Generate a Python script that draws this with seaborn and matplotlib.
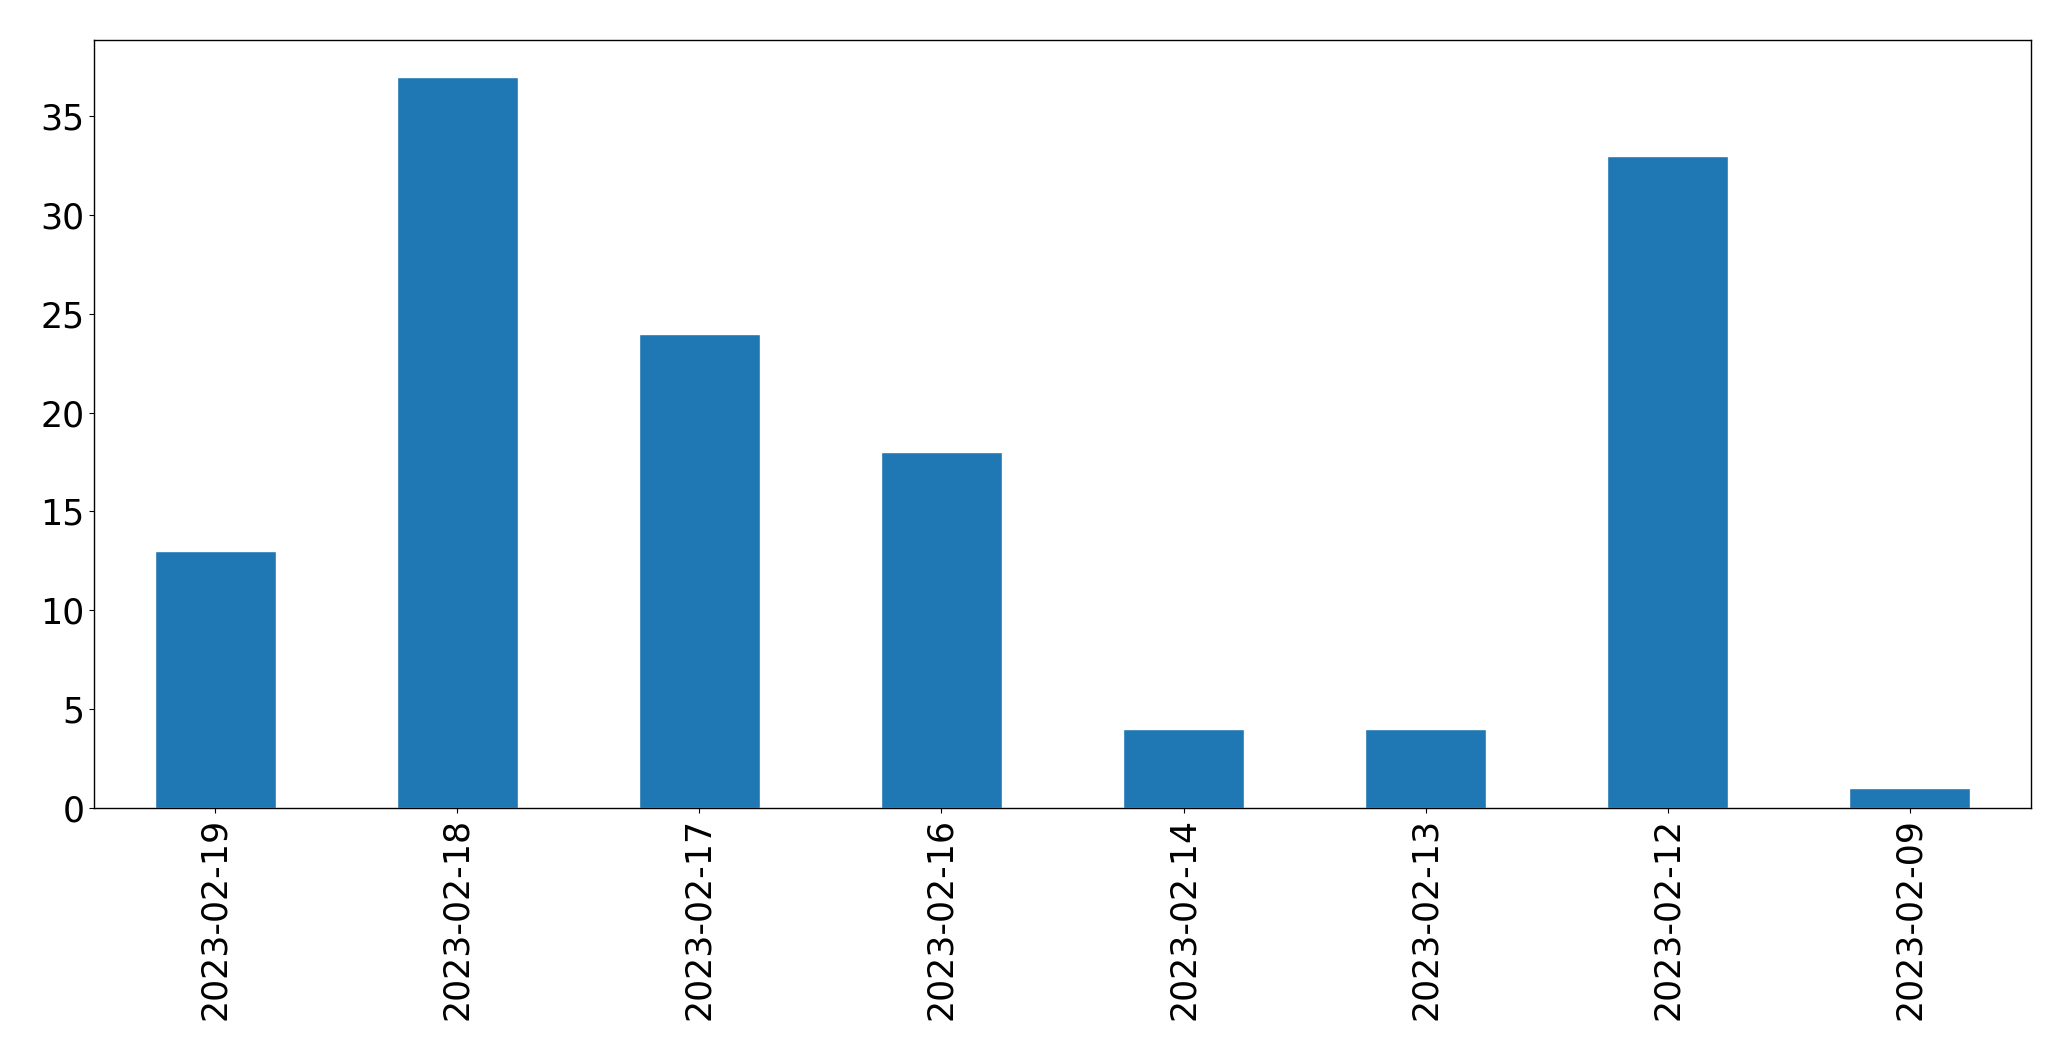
import matplotlib
matplotlib.use("Agg")
import matplotlib.pyplot as plt
import seaborn as sns
import pandas as pd

dates = ["2023-02-19", "2023-02-18", "2023-02-17", "2023-02-16",
         "2023-02-14", "2023-02-13", "2023-02-12", "2023-02-09"]
counts = [13, 37, 24, 18, 4, 4, 33, 1]

sns.set_style("ticks", {"axes.edgecolor": "black", "xtick.color": "black",
                        "ytick.color": "black", "text.color": "black"})
plt.rcParams['font.family'] = ['DejaVu Sans']

df = pd.DataFrame({"date": dates, "count": counts})

fig, ax = plt.subplots(figsize=(20.71, 10.61), dpi=100)
sns.barplot(data=df, x="date", y="count", color="#1f77b4", saturation=1,
            width=0.5, ax=ax)
ax.set_xlim(-0.5, len(dates) - 0.5)
ax.set_ylim(0, max(counts) * 1.05)
ax.set_xlabel("")
ax.set_ylabel("")
ax.tick_params(axis='both', labelsize=25, colors='black')
plt.xticks(rotation=90)
for s in ax.spines.values():
    s.set_linewidth(1.0)
    s.set_color('black')
plt.subplots_adjust(left=0.0454, right=0.9807, top=0.9623, bottom=0.2385)
plt.savefig("out.png", dpi=100)
